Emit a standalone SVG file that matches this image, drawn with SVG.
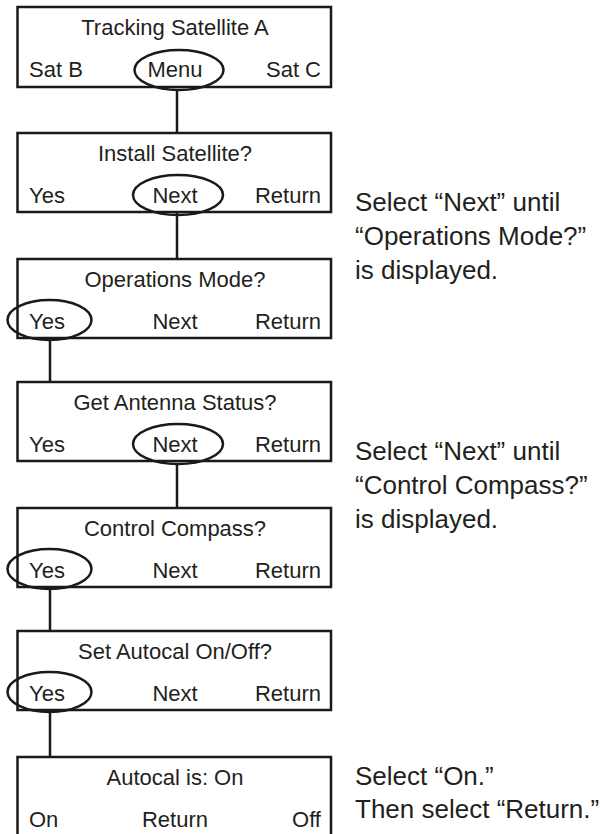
<svg xmlns="http://www.w3.org/2000/svg" width="604" height="834" viewBox="0 0 604 834">
  <style>
    .box { fill: #fff; stroke: #1a1a1a; stroke-width: 2.5; }
    .sel { fill: none; stroke: #1a1a1a; stroke-width: 2.5; }
    .wire { fill: none; stroke: #1a1a1a; stroke-width: 2.5; }
    text { font-family: "Liberation Sans", Arial, Helvetica, sans-serif; fill: #231f20; }
    .t { font-size: 22px; }
    .mid { text-anchor: middle; }
    .end { text-anchor: end; }
    .note { font-size: 26px; }
  </style>

  <!-- connectors between menu screens -->
  <g id="connectors">
    <line class="wire" x1="177" y1="90" x2="177" y2="133"/>
    <line class="wire" x1="177" y1="213" x2="177" y2="259"/>
    <line class="wire" x1="50" y1="340" x2="50" y2="382"/>
    <line class="wire" x1="177" y1="463" x2="177" y2="508"/>
    <line class="wire" x1="50" y1="589" x2="50" y2="631"/>
    <line class="wire" x1="50" y1="712" x2="50" y2="757"/>
  </g>

  <g id="screen-tracking">
    <rect class="box" x="17.5" y="7" width="313.5" height="80"/>
    <text class="t mid" x="175" y="35">Tracking Satellite A</text>
    <text class="t" x="29" y="77">Sat B</text>
    <text class="t mid" x="175" y="77">Menu</text>
    <text class="t end" x="321" y="77">Sat C</text>
    <ellipse class="sel" cx="179" cy="70" rx="44.5" ry="20"/>
  </g>

  <g id="screen-install">
    <rect class="box" x="17.5" y="133" width="313.5" height="79"/>
    <text class="t mid" x="175" y="161">Install Satellite?</text>
    <text class="t" x="29" y="203">Yes</text>
    <text class="t mid" x="175" y="203">Next</text>
    <text class="t end" x="321" y="203">Return</text>
    <ellipse class="sel" cx="178" cy="195" rx="45" ry="20"/>
  </g>

  <g id="screen-operations">
    <rect class="box" x="17.5" y="259" width="313.5" height="79"/>
    <text class="t mid" x="175" y="287">Operations Mode?</text>
    <text class="t" x="29" y="329">Yes</text>
    <text class="t mid" x="175" y="329">Next</text>
    <text class="t end" x="321" y="329">Return</text>
    <ellipse class="sel" cx="49.5" cy="320" rx="42" ry="20"/>
  </g>

  <g id="screen-antenna">
    <rect class="box" x="17.5" y="382" width="313.5" height="79"/>
    <text class="t mid" x="175" y="410">Get Antenna Status?</text>
    <text class="t" x="29" y="452">Yes</text>
    <text class="t mid" x="175" y="452">Next</text>
    <text class="t end" x="321" y="452">Return</text>
    <ellipse class="sel" cx="178" cy="444" rx="45" ry="20"/>
  </g>

  <g id="screen-compass">
    <rect class="box" x="17.5" y="508" width="313.5" height="79"/>
    <text class="t mid" x="175" y="536">Control Compass?</text>
    <text class="t" x="29" y="578">Yes</text>
    <text class="t mid" x="175" y="578">Next</text>
    <text class="t end" x="321" y="578">Return</text>
    <ellipse class="sel" cx="49.5" cy="569" rx="42" ry="20"/>
  </g>

  <g id="screen-autocal">
    <rect class="box" x="17.5" y="631" width="313.5" height="79"/>
    <text class="t mid" x="175" y="659">Set Autocal On/Off?</text>
    <text class="t" x="29" y="701">Yes</text>
    <text class="t mid" x="175" y="701">Next</text>
    <text class="t end" x="321" y="701">Return</text>
    <ellipse class="sel" cx="49.5" cy="692" rx="42" ry="20"/>
  </g>

  <g id="screen-autocal-state">
    <rect class="box" x="17.5" y="757" width="313.5" height="90"/>
    <text class="t mid" x="175" y="785">Autocal is: On</text>
    <text class="t" x="29" y="827">On</text>
    <text class="t mid" x="175" y="827">Return</text>
    <text class="t end" x="321" y="827">Off</text>
  </g>

  <!-- side notes -->
  <g id="note-operations">
    <text class="note" x="355" y="211">Select “Next” until</text>
    <text class="note" x="355" y="245">“Operations Mode?”</text>
    <text class="note" x="355" y="279">is displayed.</text>
  </g>
  <g id="note-compass">
    <text class="note" x="355" y="460">Select “Next” until</text>
    <text class="note" x="355" y="494">“Control Compass?”</text>
    <text class="note" x="355" y="528">is displayed.</text>
  </g>
  <g id="note-autocal">
    <text class="note" x="355" y="785">Select “On.”</text>
    <text class="note" x="355" y="818">Then select “Return.”</text>
  </g>
</svg>
